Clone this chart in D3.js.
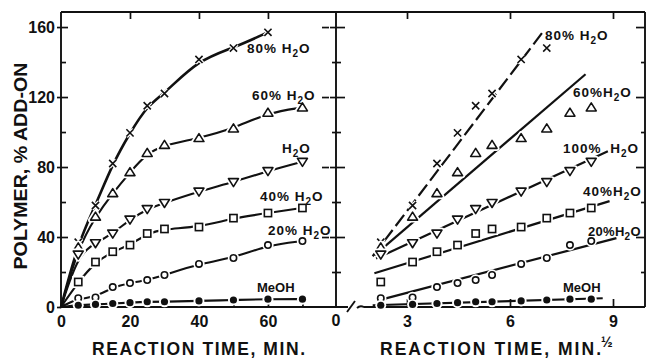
<!DOCTYPE html>
<html>
<head>
<meta charset="utf-8">
<script src="https://cdn.jsdelivr.net/npm/d3@7"></script>
<style>
  body { margin: 0; background: #fff; }
  svg { display: block; }
  text { font-family: "Liberation Sans", Arial, sans-serif; font-weight: bold; fill: #111; }
</style>
</head>
<body>
<svg id="chart" width="646" height="358"></svg>
<script>
// Reaction times (min) and polymer add-on (%) for each solvent
const times      = [5, 10, 15, 20, 25, 30, 40, 50, 60, 70];
const addOn80    = [37, 58, 82, 99.5, 115, 122, 141.5, 148, 157, null];
const addOn60    = [34, 51.6, 65, 77, 88, 92.6, 96.5, 102, 111, 114];
const addOn100   = [30, 36.5, 42, 50, 56, 59.5, 66, 71.4, 77.7, 83];
const addOn40    = [14.3, 25.7, 31.6, 35.4, 42, 44.6, 45.7, 50.8, 53.7, 56.6];
const addOn20    = [5, 5.5, 11.4, 13.7, 15.4, 18.3, 24.6, 28, 35.4, 37.7];
const addOnMeOH  = [1, 1.5, 2, 2.5, 3, 3, 3.5, 4, 4.5, 4.5];

// Straight-line fits against root time: [root start, add-on start, root end, add-on end]
const fit80   = [2.0, 29, 6.95, 157];
const fit60   = [2.05, 29.5, 8.2, 133];
const fit100  = [2.1, 27.7, 8.85, 89];
const fit40   = [2.05, 19.3, 8.9, 60.5];
const fit20   = [2.3, 4.5, 9.1, 39.4];
const fitMeOH = [2.0, 1.0, 8.7, 5.0];

// Axis ticks and labels
const yMajor = [0, 40, 80, 120, 160];
const yMinor = [20, 60, 100, 140];
const timeLabels = [0, 20, 40, 60];
const timeTicks = [10, 20, 30, 40, 50, 60, 70];
const rootLabels = [3, 6, 9];

const series = [
  { values: addOn80,   marker: "cross",   fit: fit80,   fitDash: "14,5", leftW: 2.6, rightMaxT: 50,
    left: { x: 247, y: 53, pre: "80% " }, right: { x: 545, y: 40, pre: "80% " } },
  { values: addOn60,   marker: "triUp",   fit: fit60,   fitDash: null,   leftW: 2.1, rightMaxT: 70,
    left: { x: 252, y: 100, pre: "60% " }, right: { x: 573, y: 97, pre: "60%" } },
  { values: addOn100,  marker: "triDown", fit: fit100,  fitDash: null,   leftW: 2.1, rightMaxT: 70,
    left: { x: 282, y: 153, pre: "" }, right: { x: 563, y: 153, pre: "100% ", ws: 4 } },
  { values: addOn40,   marker: "square",  fit: fit40,   fitDash: null,   leftW: 2.1, rightMaxT: 70,
    left: { x: 260, y: 201, pre: "40% " }, right: { x: 583, y: 196, pre: "40%" } },
  { values: addOn20,   marker: "circle",  fit: fit20,   fitDash: null,   leftW: 2.1, rightMaxT: 70,
    left: { x: 268, y: 235, pre: "20% " }, right: { x: 588, y: 236, pre: "20%", size: 13, ls: 0.3 } },
  { values: addOnMeOH, marker: "dot",     fit: fitMeOH, fitDash: null,   leftW: 2.1, rightMaxT: 70,
    left: { x: 257, y: 292, plain: "MeOH" }, right: { x: 563, y: 292, plain: "MeOH" } }
];

const svg = d3.select("#chart");
const ink = "#111";
const yTop = 12, yBot = 307, xRightEdge = 645, xRootAxis = 336;

const y  = d3.scaleLinear().domain([0, 168.6]).range([yBot, yTop]);
const xL = d3.scaleLinear().domain([0, 77.7]).range([61, 329]);
const xR = d3.scaleLinear().domain([3, 9]).range([407, 613]);

// ---------- frame ----------
const frame = svg.append("g").attr("stroke", ink).attr("stroke-width", 1.9).attr("fill", "none");
frame.append("line").attr("x1", xL(0)).attr("x2", xRightEdge).attr("y1", yTop).attr("y2", yTop);
frame.append("line").attr("x1", xL(0)).attr("x2", xL(0)).attr("y1", yTop).attr("y2", y(0));
frame.append("line").attr("x1", xL(0)).attr("x2", 348).attr("y1", y(0)).attr("y2", y(0));
frame.append("line").attr("x1", xRootAxis).attr("x2", xRootAxis).attr("y1", yTop).attr("y2", y(0));
frame.append("path").attr("d", `M357,${y(0) + 1}Q360,${y(0) - 2} 364,${y(0)}L${xRightEdge},${y(0)}`);
frame.append("line").attr("x1", xRightEdge).attr("x2", xRightEdge).attr("y1", yTop).attr("y2", y(0));
// axis break
frame.append("line").attr("x1", 347).attr("y1", y(0) + 5).attr("x2", 355).attr("y2", y(0) - 6);

// ---------- ticks through d3 axes ----------
function tickGroup(tx, ty, axis) {
  const g = svg.append("g").attr("transform", `translate(${tx},${ty})`).attr("color", ink).call(axis);
  g.select(".domain").remove();
  g.selectAll(".tick line").attr("stroke-width", 1.7);
  return g;
}
const noLabel = () => "";
function styleLabels(g) {
  g.selectAll("text").attr("font-size", 16).attr("font-family", "Liberation Sans, Arial, sans-serif")
    .attr("font-weight", "bold").attr("fill", ink);
}

// left panel, value axis
styleLabels(tickGroup(xL(0), 0, d3.axisLeft(y).tickValues(yMajor).tickSize(4).tickPadding(2).tickFormat(d3.format("d"))));
tickGroup(xL(0), 0, d3.axisRight(y).tickValues(yMajor.slice(1)).tickSize(7).tickFormat(noLabel));
tickGroup(xL(0), 0, d3.axisRight(y).tickValues(yMinor).tickSize(5).tickFormat(noLabel));
// left panel, right-hand ticks
tickGroup(329, 0, d3.axisLeft(y).tickValues(yMajor.slice(1)).tickSize(7).tickFormat(noLabel));
// left panel, time ticks
tickGroup(0, yTop, d3.axisBottom(xL).tickValues(timeLabels.slice(1)).tickSize(7).tickFormat(noLabel));
tickGroup(0, y(0), d3.axisTop(xL).tickValues(timeTicks).tickSize(7).tickFormat(noLabel));
styleLabels(tickGroup(0, y(0), d3.axisBottom(xL).tickValues(timeLabels).tickSize(0).tickPadding(8.5).tickFormat(d3.format("d"))));

// right panel, value axis ticks (crossing the axis)
tickGroup(xRootAxis, 0, d3.axisLeft(y).tickValues(yMajor.slice(1)).tickSize(6).tickFormat(noLabel));
tickGroup(xRootAxis, 0, d3.axisRight(y).tickValues(yMajor.slice(1)).tickSize(9).tickFormat(noLabel));
tickGroup(xRootAxis, 0, d3.axisLeft(y).tickValues(yMinor).tickSize(4).tickFormat(noLabel));
tickGroup(xRootAxis, 0, d3.axisRight(y).tickValues(yMinor).tickSize(5).tickFormat(noLabel));
tickGroup(xRightEdge, 0, d3.axisLeft(y).tickValues(yMajor.slice(1)).tickSize(9).tickFormat(noLabel));
tickGroup(xRightEdge, 0, d3.axisLeft(y).tickValues(yMinor).tickSize(4).tickFormat(noLabel));
// right panel, root-time ticks
tickGroup(0, yTop, d3.axisBottom(xR).tickValues(rootLabels).tickSize(7).tickFormat(noLabel));
tickGroup(0, y(0), d3.axisTop(xR).tickValues(rootLabels).tickSize(8).tickFormat(noLabel));
styleLabels(tickGroup(0, y(0), d3.axisBottom(xR).tickValues(rootLabels).tickSize(0).tickPadding(8.5).tickFormat(d3.format("d"))));
svg.append("text").attr("x", xRootAxis).attr("y", 326).attr("text-anchor", "middle")
  .attr("font-size", 16).text("0");

// ---------- axis titles ----------
svg.append("text").attr("transform", "translate(27,166) rotate(-90)").attr("text-anchor", "middle")
  .attr("font-size", 19).attr("textLength", 207).attr("lengthAdjust", "spacingAndGlyphs")
  .text("POLYMER, % ADD-ON");
svg.append("text").attr("x", 92).attr("y", 355).attr("font-size", 17.5)
  .attr("textLength", 213).attr("lengthAdjust", "spacing").text("REACTION TIME, MIN.");
svg.append("text").attr("x", 380).attr("y", 355).attr("font-size", 17.5)
  .attr("textLength", 221).attr("lengthAdjust", "spacing").text("REACTION TIME, MIN.");
svg.append("text").attr("x", 601).attr("y", 347).attr("font-size", 14).text("½");

// ---------- markers ----------
function markerShape(g, type, halo) {
  const sw = halo ? 5 : 1.6;
  const stroke = halo ? "#fff" : ink;
  switch (type) {
    case "cross":
      g.append("path").attr("d", "M-3.6,-3.6L3.6,3.6M-3.6,3.6L3.6,-3.6")
        .attr("stroke", stroke).attr("stroke-width", halo ? 4 : 1.6).attr("fill", "none");
      break;
    case "triUp":
      g.append("path").attr("d", "M0,-4.6L5,3.4L-5,3.4Z")
        .attr("stroke", stroke).attr("stroke-width", sw).attr("fill", "#fff").attr("stroke-linejoin", "round");
      break;
    case "triDown":
      g.append("path").attr("d", "M0,4.6L5,-3.4L-5,-3.4Z")
        .attr("stroke", stroke).attr("stroke-width", sw).attr("fill", "#fff").attr("stroke-linejoin", "round");
      break;
    case "square":
      g.append("rect").attr("x", -3.6).attr("y", -3.6).attr("width", 7.2).attr("height", 7.2)
        .attr("stroke", stroke).attr("stroke-width", sw).attr("fill", "#fff");
      break;
    case "circle":
      g.append("circle").attr("r", 3.2)
        .attr("stroke", stroke).attr("stroke-width", sw).attr("fill", "#fff");
      break;
    case "dot":
      g.append("circle").attr("r", halo ? 5.5 : 3.6).attr("fill", halo ? "#fff" : ink);
      break;
  }
}
function drawMarkers(layer, pts, type) {
  const halos = layer.append("g");
  const marks = layer.append("g");
  pts.forEach(p => {
    markerShape(halos.append("g").attr("transform", `translate(${p[0]},${p[1]})`), type, true);
    markerShape(marks.append("g").attr("transform", `translate(${p[0]},${p[1]})`), type, false);
  });
}

// ---------- series labels ----------
function seriesLabel(spec) {
  const t = svg.append("text").attr("x", spec.x).attr("y", spec.y).attr("font-size", spec.size || 13.5);
  if (spec.plain) {
    t.attr("font-size", 13).text(spec.plain);
    return;
  }
  t.attr("letter-spacing", spec.ls != null ? spec.ls : 1);
  if (spec.ws) t.attr("word-spacing", spec.ws);
  t.append("tspan").text(spec.pre + "H");
  t.append("tspan").attr("dy", 3.5).attr("font-size", 10).text("2");
  t.append("tspan").attr("dy", -3.5).text("O");
}

// ---------- left panel: add-on vs time, smoothed curves from the origin ----------
const curve = d3.line().x(d => xL(d[0])).y(d => y(d[1])).curve(d3.curveBasis);
const leftLines = svg.append("g");
const leftMarks = svg.append("g");
series.forEach(s => {
  const pts = times.map((t, i) => [t, s.values[i]]).filter(d => d[1] != null);
  leftLines.append("path").datum([[0, 0], ...pts]).attr("d", curve)
    .attr("fill", "none").attr("stroke", ink).attr("stroke-width", s.leftW).attr("stroke-linecap", "round");
  drawMarkers(leftMarks, pts.map(d => [xL(d[0]), y(d[1])]), s.marker);
  seriesLabel(s.left);
});

// ---------- right panel: add-on vs square root of time ----------
const rightLines = svg.append("g");
const rightMarks = svg.append("g");
series.forEach(s => {
  rightLines.append("line")
    .attr("x1", xR(s.fit[0])).attr("y1", y(s.fit[1]))
    .attr("x2", xR(s.fit[2])).attr("y2", y(s.fit[3]))
    .attr("stroke", ink).attr("stroke-width", 2.2).attr("stroke-linecap", "butt")
    .attr("stroke-dasharray", s.fitDash);
  const pts = times.map((t, i) => [t, s.values[i]])
    .filter(d => d[1] != null && d[0] <= s.rightMaxT)
    .map(d => [xR(Math.sqrt(d[0])), y(d[1])]);
  drawMarkers(rightMarks, pts, s.marker);
  seriesLabel(s.right);
});
</script>
</body>
</html>
